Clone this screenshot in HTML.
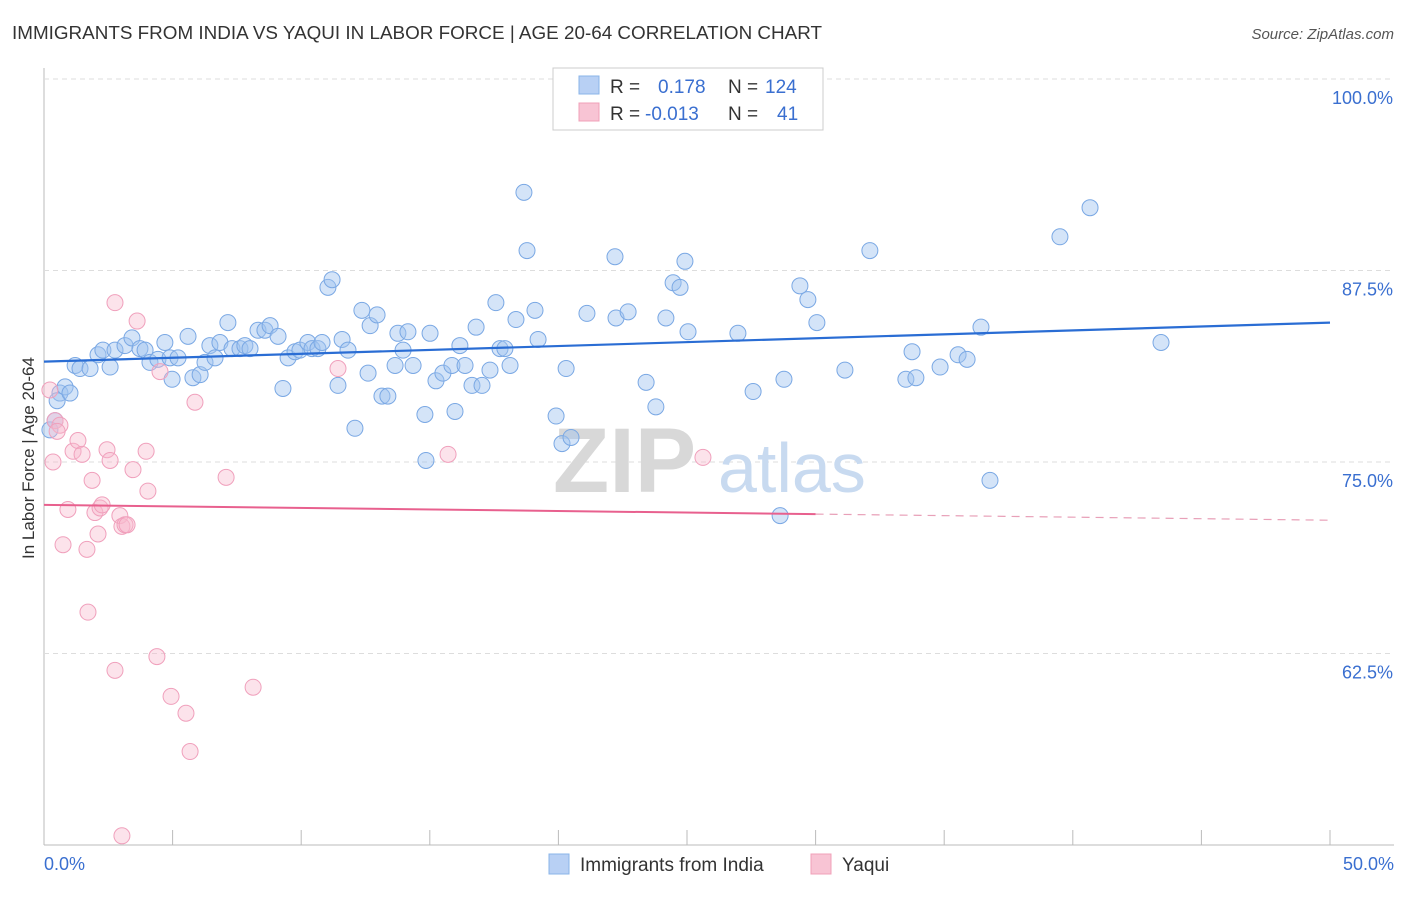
<!DOCTYPE html>
<html><head><meta charset="utf-8"><style>
body{margin:0;background:#fff;font-family:"Liberation Sans",sans-serif;}
svg text{font-family:"Liberation Sans",sans-serif;}
</style></head><body>
<svg id="chart" width="1406" height="892" xmlns="http://www.w3.org/2000/svg">
<text x="12" y="39" font-size="18" fill="#333" textLength="810" lengthAdjust="spacingAndGlyphs">IMMIGRANTS FROM INDIA VS YAQUI IN LABOR FORCE | AGE 20-64 CORRELATION CHART</text>
<text x="1394" y="39" font-size="15" fill="#555" font-style="italic" text-anchor="end">Source: ZipAtlas.com</text>
<g id="grid"></g>
<g id="watermark">
<text x="553" y="492" font-size="92" fill="#d8d8d8" font-family="Liberation Serif" font-weight="bold">ZIP</text>
<text x="718" y="492" font-size="70" fill="#c8daf0">atlas</text>
</g>
<g id="points"></g>
<g id="trends"></g>
<text x="34" y="458" font-size="17" fill="#333" text-anchor="middle" transform="rotate(-90 34 458)">In Labor Force | Age 20-64</text>
<g>
<rect x="553" y="68" width="270" height="62" fill="#fff" stroke="#ccc"/>
<rect x="579" y="76" width="20" height="18" fill="#b8d0f4" stroke="#8ab4e8"/>
<rect x="579" y="103" width="20" height="18" fill="#f8c4d4" stroke="#f0a0b8"/>
<text x="610" y="93" font-size="19" fill="#333">R = </text><text x="658" y="93" font-size="19" fill="#3a6fd0">0.178</text>
<text x="728" y="93" font-size="19" fill="#333">N = </text><text x="765" y="93" font-size="19" fill="#3a6fd0">124</text>
<text x="610" y="120" font-size="19" fill="#333">R = </text><text x="645" y="120" font-size="19" fill="#3a6fd0">-0.013</text>
<text x="728" y="120" font-size="19" fill="#333">N = </text><text x="777" y="120" font-size="19" fill="#3a6fd0">41</text>
</g>
<g>
<rect x="549" y="854" width="20" height="20" fill="#b8d0f4" stroke="#8ab4e8"/>
<text x="580" y="871" font-size="19" fill="#333">Immigrants from India</text>
<rect x="811" y="854" width="20" height="20" fill="#f8c4d4" stroke="#f0a0b8"/>
<text x="842" y="871" font-size="19" fill="#333">Yaqui</text>
</g>
</svg>
<script>
const yTicks=[100,87.5,75,62.5];
const yTickLabels=["100.0%","87.5%","75.0%","62.5%"];
const xTicks=[0,5,10,15,20,25,30,35,40,45,50];
const blueX=[0.62,0.82,0.51,1.01,0.23,0.43,1.21,1.40,1.79,2.10,2.29,2.57,2.76,3.15,3.42,3.73,3.93,4.12,4.43,4.70,4.90,5.21,5.60,5.79,6.07,6.26,6.45,6.65,6.84,7.15,7.31,7.62,7.81,8.01,8.32,8.59,8.79,9.10,9.29,9.49,9.76,9.95,10.26,10.42,10.65,10.81,11.04,11.20,11.43,11.59,11.82,12.36,12.60,12.68,12.95,12.09,13.14,13.37,13.65,13.76,13.96,14.15,14.35,14.81,14.85,15.01,15.24,15.51,15.86,15.98,16.17,16.37,16.64,16.80,17.03,17.34,17.57,17.73,17.92,18.12,18.35,18.66,18.78,19.09,19.21,19.91,20.14,20.30,20.49,21.11,22.20,22.24,22.71,23.41,23.79,24.18,24.46,24.73,24.92,25.04,26.98,27.57,28.62,28.77,29.39,29.70,30.05,31.14,32.11,33.51,33.75,33.90,34.84,35.54,35.89,36.43,36.78,39.50,40.67,43.43,4.98];
const blueY=[79.5,79.9,79.0,79.5,77.1,77.7,81.3,81.1,81.1,82.0,82.3,81.2,82.3,82.6,83.1,82.4,82.3,81.5,81.7,82.8,81.8,81.8,83.2,80.5,80.7,81.5,82.6,81.8,82.8,84.1,82.4,82.4,82.6,82.4,83.6,83.6,83.9,83.2,79.8,81.8,82.2,82.3,82.8,82.4,82.4,82.8,86.4,86.9,80.0,83.0,82.3,84.9,80.8,83.9,84.6,77.2,79.3,79.3,81.3,83.4,82.3,83.5,81.3,78.1,75.1,83.4,80.3,80.8,81.3,78.3,82.6,81.3,80.0,83.8,80.0,81.0,85.4,82.4,82.4,81.3,84.3,92.6,88.8,84.9,83.0,78.0,76.2,81.1,76.6,84.7,88.4,84.4,84.8,80.2,78.6,84.4,86.7,86.4,88.1,83.5,83.4,79.6,71.5,80.4,86.5,85.6,84.1,81.0,88.8,80.4,82.2,80.5,81.2,82.0,81.7,83.8,73.8,89.7,91.6,82.8,80.4];
const pinkX=[0.23,0.43,0.62,0.35,0.51,0.93,0.74,1.13,1.32,1.48,1.67,1.87,1.98,2.10,2.18,2.26,2.45,2.57,2.76,2.95,3.03,3.15,3.23,3.46,3.62,3.97,4.04,4.51,5.87,7.08,15.71,25.62,1.71,2.76,4.39,4.94,5.52,5.68,8.13,3.03,11.43];
const pinkY=[79.7,77.7,77.4,75.0,77.0,71.9,69.6,75.7,76.4,75.5,69.3,73.8,71.7,70.3,72.0,72.2,75.8,75.1,85.4,71.5,70.8,70.9,70.9,74.5,84.2,75.7,73.1,80.9,78.9,74.0,75.5,75.3,65.2,61.4,62.3,59.7,58.6,56.1,60.3,50.6,81.1];
const blueTrend=[81.55,84.1];
const pinkTrend=[72.2,71.2];
const pinkSolidEnd=30;

const NS="http://www.w3.org/2000/svg";
const sx=v=>44+v*25.72;
const sy=v=>79+(100-v)*15.32;
function mk(tag,attrs,parent){const e=document.createElementNS(NS,tag);for(const k in attrs)e.setAttribute(k,attrs[k]);parent.appendChild(e);return e;}
const grid=document.getElementById('grid');
const ax=mk('line',{x1:44,y1:68,x2:44,y2:845,stroke:'#bbb'},grid);


const bx=mk('line',{x1:44,y1:845,x2:1394,y2:845,stroke:'#bbb'},grid);


yTicks.forEach((t,i)=>{
  const l=mk('line',{x1:44,x2:1394,y1:sy(t),y2:sy(t),stroke:'#ddd','stroke-dasharray':'5,4'},grid);
  
  
  const tx=mk('text',{x:1393,y:sy(t)+25,'font-size':18,fill:'#3a6fd0','text-anchor':'end'},grid);
  tx.textContent=yTickLabels[i];
  
  
});
xTicks.forEach(t=>{
  const l=mk('line',{x1:sx(t),x2:sx(t),y1:830,y2:845,stroke:'#bbb'},grid);
  
  
});
const xl0=mk('text',{x:44,y:870,'font-size':18,fill:'#3a6fd0'},grid);xl0.textContent='0.0%';


const xl1=mk('text',{x:1394,y:870,'font-size':18,fill:'#3a6fd0','text-anchor':'end'},grid);xl1.textContent='50.0%';



const pts=document.getElementById('points');
blueX.forEach((x,i)=>{
  const c=mk('circle',{cx:sx(x),cy:sy(blueY[i]),r:8,fill:'rgba(160,196,240,0.45)',stroke:'#7aa8e4','stroke-width':1},pts);
  
  
});
pinkX.forEach((x,i)=>{
  const c=mk('circle',{cx:sx(x),cy:sy(pinkY[i]),r:8,fill:'rgba(248,184,204,0.4)',stroke:'#f0a0bc','stroke-width':1},pts);
  
  
});
const tr=document.getElementById('trends');
const bl=mk('line',{x1:sx(0),y1:sy(blueTrend[0]),x2:sx(50),y2:sy(blueTrend[1]),stroke:'#2a6dd4','stroke-width':2.2},tr);


const pm=pinkTrend[0]+(pinkTrend[1]-pinkTrend[0])*pinkSolidEnd/50;
const pl=mk('line',{x1:sx(0),y1:sy(pinkTrend[0]),x2:sx(pinkSolidEnd),y2:sy(pm),stroke:'#e8608e','stroke-width':2},tr);


const pd=mk('line',{x1:sx(pinkSolidEnd),y1:sy(pm),x2:sx(50),y2:sy(pinkTrend[1]),stroke:'#e8a0b8','stroke-width':1.2,'stroke-dasharray':'8,6'},tr);


</script>
</body></html>
